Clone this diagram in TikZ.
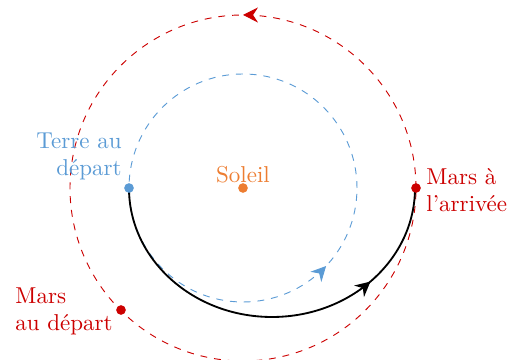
\documentclass[tikz,border=0pt]{standalone}
\usetikzlibrary{arrows.meta,decorations.markings}
\definecolor{cblue}{RGB}{91,155,213}
\definecolor{corange}{RGB}{237,125,49}
\definecolor{cred}{RGB}{204,0,0}
\tikzset{
  orbit/.style={dashed,line width=0.4pt},
  dot/.style={circle,fill,inner sep=0pt,minimum size=4.2pt},
  lbl/.style={inner sep=0pt},
  midarrow/.style={postaction={decorate},decoration={markings,mark=at position #1 with {\arrow{Stealth[length=6.5pt,width=6.5pt]}}}}
}
\begin{document}
\begin{tikzpicture}[x=0.435pt,y=0.435pt]
\useasboundingbox (-243,-172) rectangle (267,188);
% orbits
\draw[orbit,cred,midarrow=0.25] (173,0) arc[start angle=0,end angle=360,radius=173];
\draw[orbit,cblue,midarrow=0.88] (114,0) arc[start angle=0,end angle=360,radius=114];
% transfer
\draw[black,line width=0.8pt,midarrow=0.75] (-114,0) arc[start angle=180,end angle=360,x radius=143,y radius=129];
% bodies
\node[dot,corange] (sun) at (0,0) {};
\node[dot,cblue] (earth) at (-114,0) {};
\node[dot,cred] (marsa) at (173,0) {};
\node[dot,cred] (marsd) at (-122,-122) {};
% labels
\node[lbl,corange,anchor=base] (lsun) at (0,5) {Soleil};
\node[lbl,cblue,align=right,anchor=north east] (learth) at (-121,56) {Terre au\\départ};
\node[lbl,cred,align=left,anchor=west] (lmarsa) at (183,-2) {Mars à\\l'arrivée};
\node[lbl,cred,align=left,anchor=north west] (lmarsd) at (-228,-99) {Mars\\au départ};
\end{tikzpicture}
\end{document}
